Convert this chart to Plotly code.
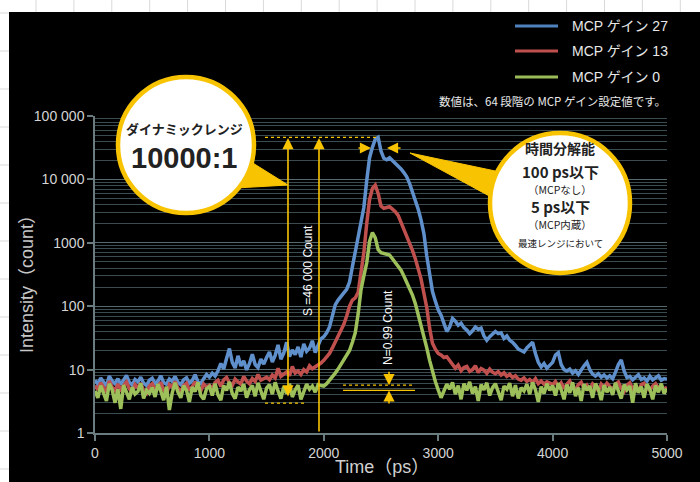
import math
import plotly.graph_objects as go

# Sampling grid of the streak-camera time axis (ps)
TIME_PS = list(range(0, 5001, 25))

# Intensity (count) for the three MCP gain settings
GAIN_27 = [
    6.8, 5.9, 7.4, 6.2, 5.5, 7.9, 6.6, 6.0, 7.2, 5.8, 6.9, 8.1, 6.3, 5.7, 7.0, 6.4, 7.6, 6.1, 5.6, 6.8,
    7.3, 6.0, 6.6, 8.0, 6.2, 5.9, 7.1, 6.5, 7.8, 6.3, 5.8, 6.9, 7.4, 6.1, 6.7, 8.3, 6.4, 6.0, 7.2, 8.4,
    7.6, 8.8, 7.9, 9.6, 12.5, 10.2, 15.0, 21.5, 13.0, 10.6, 16.5, 11.4, 13.8, 9.9, 12.4, 17.5, 12.0, 10.8, 14.6, 12.2,
    15.5, 19.0, 13.2, 16.8, 24.5, 14.6, 18.2, 27.0, 16.0, 20.5, 17.2, 22.8, 15.8, 25.5, 19.5, 21.8, 28.5, 18.6, 24.0, 30.5,
    33, 38, 47, 72, 105, 125, 140, 162, 185, 240, 420, 700, 1150, 2000, 3600, 9500, 22000, 32000, 43000, 46000,
    28000, 21500, 20500, 22000, 20000, 17800, 16500, 14600, 12800, 11000, 8600, 6400, 4700, 3400, 2300, 1400, 620, 330, 170, 120,
    88, 72, 52, 40, 47, 64, 58, 50, 54, 46, 42, 37, 41, 47, 43, 45, 34, 29, 33, 36,
    40, 37, 38, 31, 34, 29, 27, 24, 21, 20, 19, 22, 24, 27, 18, 13, 11, 12.5, 10.5, 11.5,
    13, 17, 18.5, 12, 10, 9.5, 10.2, 8.8, 9.6, 8.4, 10.1, 11.5, 13.0, 10.0, 8.5, 7.9, 8.6, 7.6, 8.2, 7.4,
    8.0, 7.2, 9.1, 12.0, 14.2, 9.5, 7.5, 7.8, 6.9, 7.6, 8.3, 7.0, 7.4, 6.6, 7.9, 6.9, 7.3, 8.0, 6.8, 7.2,
    7.0,
]
GAIN_13 = [
    5.6, 4.8, 6.2, 5.1, 4.4, 6.6, 5.3, 4.7, 5.9, 4.9, 5.7, 6.4, 5.0, 4.3, 5.8, 5.2, 6.1, 4.6, 4.2, 5.5,
    6.0, 4.9, 5.4, 6.3, 4.8, 4.1, 5.8, 5.3, 6.5, 5.1, 4.5, 5.6, 6.1, 4.7, 5.4, 6.4, 5.2, 4.6, 5.9, 5.3,
    5.7, 5.0, 6.3, 6.8, 5.4, 6.9, 7.5, 6.2, 5.6, 7.1, 6.4, 5.9, 7.8, 6.6, 6.0, 7.2, 6.5, 8.4, 6.8, 7.3,
    7.6, 6.9, 8.2, 7.4, 10.5, 7.8, 8.6, 9.2, 8.0, 11.2, 8.8, 9.5, 8.4, 10.0, 9.2, 11.5, 10.3, 11.0, 12.0, 12.7,
    14, 16, 18, 22, 27, 33, 40, 52, 70, 100, 125, 135, 165, 330, 700, 2000, 4800, 7200, 8100, 6000,
    3800, 3500, 3550, 3700, 3400, 3100, 2700, 2100, 1700, 1300, 1000, 760, 560, 400, 270, 160, 95, 45, 26, 21,
    18, 17, 15.5, 16, 14, 12.5, 10.5, 11.8, 9.6, 10.8, 11.2, 9.4, 10.0, 11.5, 9.0, 10.4, 9.8, 8.7, 10.2, 9.1,
    8.6, 9.3, 8.2, 8.9, 7.8, 8.4, 7.5, 8.0, 7.1, 6.8, 7.4, 6.5, 7.0, 6.3, 7.2, 6.0, 6.6, 5.9, 6.4, 6.1,
    5.8, 6.5, 5.4, 6.2, 5.0, 5.9, 6.6, 5.3, 4.7, 5.8, 6.3, 5.1, 5.7, 4.9, 6.0, 5.5, 4.6, 5.9, 5.2, 6.1,
    5.4, 4.8, 5.9, 6.4, 5.1, 4.5, 5.7, 6.2, 5.0, 5.6, 4.4, 5.8, 6.1, 5.2, 4.7, 5.5, 6.0, 5.1, 5.6, 4.9,
    5.3,
]
GAIN_0 = [
    4.6, 3.6, 5.6, 4.3, 3.2, 6.0, 4.8, 3.0, 4.9, 2.4, 5.7, 4.4, 3.4, 5.3, 4.1, 4.5, 6.1, 3.5, 4.7, 4.2,
    5.2, 3.7, 5.9, 4.6, 3.3, 5.4, 2.3, 4.3, 6.2, 4.4, 3.6, 5.6, 4.7, 3.1, 5.3, 4.5, 6.3, 3.9, 3.4, 5.0,
    5.4, 3.9, 6.0, 4.0, 3.3, 5.6, 4.7, 6.4, 4.2, 3.5, 5.3, 4.6, 5.9, 3.6, 4.8, 5.6, 3.8, 6.2, 4.5, 3.4,
    5.1, 5.8, 4.1, 6.3, 4.6, 3.5, 5.4, 4.2, 6.0, 3.7, 4.8, 5.7, 3.4, 4.7, 5.9, 4.9, 5.5, 4.4, 5.8, 5.6,
    5.5, 6.0, 6.8, 7.4, 8.8, 10.2, 12.0, 14.0, 16.5, 20, 27, 38, 75, 180, 300, 480, 1050, 1450, 1200, 780,
    700, 680, 650, 640, 560, 490, 430, 370, 300, 240, 200, 150, 110, 75, 50, 35, 22, 14, 9.0, 6.5,
    4.8, 3.6, 4.6, 5.9, 4.9, 6.3, 4.1, 5.6, 3.4, 6.0, 4.7, 6.4, 4.2, 5.4, 3.2, 5.8, 4.8, 6.2, 3.9, 5.2,
    6.0, 4.3, 3.3, 5.5, 4.9, 6.1, 3.8, 5.7, 3.5, 5.2, 4.6, 5.9, 4.1, 6.3, 4.8, 3.1, 5.4, 4.2, 6.0, 4.7,
    5.6, 3.9, 6.1, 4.8, 3.4, 5.8, 4.3, 6.3, 3.8, 5.2, 3.2, 5.9, 4.7, 5.5, 3.6, 6.0, 4.9, 3.3, 5.7, 4.4,
    5.3, 4.0, 6.2, 4.6, 3.5, 5.8, 4.8, 5.5, 3.0, 6.1, 4.3, 5.4, 3.6, 5.9, 4.9, 3.4, 5.6, 4.4, 6.0, 4.2,
    5.0,
]
assert len(GAIN_27) == len(GAIN_13) == len(GAIN_0) == len(TIME_PS)

SERIES_NAMES = ["MCP ゲイン 27", "MCP ゲイン 13", "MCP ゲイン 0"]
LINE_COLORS = ["#5f90cc", "#c0504e", "#9dc05a"]
LEGEND_COLORS = ["#4f81bd", "#c0504d", "#9bbb59"]

X_TICKS = [0, 1000, 2000, 3000, 4000, 5000]
Y_TICKS = [1, 10, 100, 1000, 10000, 100000]
Y_TICK_TEXT = ["1", "10", "100", "1000", "10 000", "100 000"]

# Signal / noise markers
S_LEVEL = 46000
S_FLOOR = 2.97
N_UPPER = 5.69
N_LOWER = 4.70
PEAK_TIME = 2465

W, H = 700, 482
L, R, T, B = 95, 667, 116, 433
YELLOW = "#f8c300"
LATIN = "Liberation Sans, Arial, Noto Sans CJK JP"
CJK = "Noto Sans CJK JP, Liberation Sans"


def xp(px):
    return (px - L) / (R - L)


def yp(py):
    return (B - py) / (B - T)


fig = go.Figure()
for name, ys, col in zip(SERIES_NAMES, [GAIN_27, GAIN_13, GAIN_0], LINE_COLORS):
    fig.add_trace(go.Scatter(x=TIME_PS, y=ys, mode="lines", name=name,
                             line=dict(color=col, width=3.5), showlegend=False))

# dotted guide lines for signal level and noise floor
guide = dict(mode="lines", showlegend=False, hoverinfo="skip")
fig.add_trace(go.Scatter(x=[1486, PEAK_TIME], y=[S_LEVEL, S_LEVEL],
                         line=dict(color=YELLOW, width=1.3, dash="dot"), **guide))
fig.add_trace(go.Scatter(x=[1486, 1827], y=[S_FLOOR, S_FLOOR],
                         line=dict(color=YELLOW, width=1.3, dash="dot"), **guide))
fig.add_trace(go.Scatter(x=[2168, 2797], y=[N_UPPER, N_UPPER],
                         line=dict(color=YELLOW, width=1.3, dash="dot"), **guide))
fig.add_trace(go.Scatter(x=[2168, 2797], y=[N_LOWER, N_LOWER],
                         line=dict(color=YELLOW, width=1.3), **guide))

shapes = []
# page surround (sheet grid outside the black panel)
shapes.append(dict(type="rect", xref="paper", yref="paper", x0=xp(-5), x1=xp(705),
                   y0=yp(12), y1=yp(-5), fillcolor="white", line_width=0))
shapes.append(dict(type="rect", xref="paper", yref="paper", x0=xp(-5), x1=xp(9),
                   y0=yp(487), y1=yp(12), fillcolor="white", line_width=0))
for k in range(18):
    gx = 36 + 37.9 * k
    shapes.append(dict(type="line", xref="paper", yref="paper", x0=xp(gx), x1=xp(gx),
                       y0=yp(0), y1=yp(12), line=dict(color="#d9d9d9", width=1)))
for k in range(13):
    gy = 13 + 38 * k
    shapes.append(dict(type="line", xref="paper", yref="paper", x0=xp(0), x1=xp(9),
                       y0=yp(gy), y1=yp(gy), line=dict(color="#d9d9d9", width=1)))

# legend swatches
for i, col in enumerate(LEGEND_COLORS):
    ly = [26, 51, 77][i]
    shapes.append(dict(type="line", xref="paper", yref="paper", x0=xp(515), x1=xp(558),
                       y0=yp(ly), y1=yp(ly), line=dict(color=col, width=3)))


def callout(cx, cy, r, tail):
    (ax, ay), (tx, ty), (bx, by) = tail
    path = "M {} {} L {} {} L {} {} Z".format(xp(ax), yp(ay), xp(tx), yp(ty), xp(bx), yp(by))
    shapes.append(dict(type="path", xref="paper", yref="paper", path=path,
                       fillcolor=YELLOW, line=dict(color=YELLOW, width=1)))
    shapes.append(dict(type="circle", xref="paper", yref="paper",
                       x0=xp(cx - r), x1=xp(cx + r), y0=yp(cy + r), y1=yp(cy - r),
                       fillcolor="white", line=dict(color=YELLOW, width=4.5)))


callout(186, 145, 68, [(248, 160), (288, 185), (236, 188)])
callout(560, 203, 70, [(500, 172), (410, 153), (493, 198)])

ann = []


def txt(x, y, s, size, color="#222222", family=CJK, anchor="center", **kw):
    ann.append(dict(x=xp(x), y=yp(y), xref="paper", yref="paper", text=s, showarrow=False,
                    xanchor=anchor, yanchor="middle", font=dict(size=size, color=color, family=family),
                    **kw))


# legend labels and note
for i, name in enumerate(SERIES_NAMES):
    txt(570, [26, 51, 77][i], name, 14, color="#e8e8e8", family=LATIN, anchor="left")
txt(668, 101, "数値は、64 段階の MCP ゲイン設定値です。", 11.5, color="#e8e8e8", anchor="right")

# callout texts
txt(184, 128, "<b>ダイナミックレンジ</b>", 13)
txt(184, 158, "<b>10000:1</b>", 29, family=LATIN)
txt(560, 148, "<b>時間分解能</b>", 14)
txt(560, 171, "<b>100 ps以下</b>", 15)
txt(560, 189, "（MCPなし）", 10.5)
txt(560, 206, "<b>5 ps以下</b>", 15)
txt(560, 224, "（MCP内蔵）", 10.5)
txt(560, 243, "最速レンジにおいて", 9.5)

# rotated value labels
txt(308, 271, "S =46 000 Count", 12, color="white", family=LATIN, textangle=-90)
txt(388, 327, "N=0.99 Count", 12, color="white", family=LATIN, textangle=-90)

# axis titles
txt(27, 280, "Intensity（count）", 18, color="#c8c8c8", family=LATIN, textangle=-90)
txt(382, 467, "Time（ps）", 18, color="#d0d0d0", family=LATIN)

lg = math.log10


def arrow(x, y, ax, ay, both=False):
    d = dict(x=x, y=lg(y), ax=ax, ay=lg(ay), xref="x", yref="y", axref="x", ayref="y",
             text="", showarrow=True, arrowhead=2, arrowsize=1.4, arrowwidth=1.6,
             arrowcolor=YELLOW, standoff=0, startstandoff=0)
    if both:
        d.update(arrowside="end+start", startarrowhead=2, startarrowsize=1.4)
    ann.append(d)


arrow(1687, 45000, 1687, 3.57, both=True)
arrow(1958, 45000, 1958, 1)
arrow(2570, N_UPPER, 2570, 9.8)
arrow(2570, N_LOWER, 2570, 2.76)
arrow(2413, 31300, 2290, 31300)
arrow(2552, 31300, 2684, 31300)

minor_vals = [k * 10 ** d for d in range(5) for k in range(2, 10)]

fig.update_layout(
    width=W, height=H,
    margin=dict(l=L, r=W - R, t=T, b=H - B),
    paper_bgcolor="black", plot_bgcolor="black",
    shapes=shapes, annotations=ann,
    showlegend=False, hovermode=False,
    font=dict(family=LATIN, color="#d4d4d4"),
    xaxis=dict(range=[0, 5000], tickmode="array", tickvals=X_TICKS, automargin=False,
               showgrid=False, zeroline=False, showline=True, linecolor="#6b7c80", linewidth=1.5,
               ticks="outside", ticklen=6, tickcolor="#6b7c80", tickwidth=1.5,
               tickfont=dict(size=14, color="#d4d4d4")),
    yaxis=dict(type="log", range=[0, 5], tickmode="array", tickvals=Y_TICKS, ticktext=Y_TICK_TEXT,
               automargin=False,
               showgrid=True, gridcolor="#56696d", gridwidth=1.3, zeroline=False,
               showline=True, linecolor="#6b7c80", linewidth=1.5,
               ticks="outside", ticklen=6, tickcolor="#6b7c80", tickwidth=1.5,
               tickfont=dict(size=14, color="#d4d4d4"),
               minor=dict(tickmode="array", tickvals=minor_vals, showgrid=True,
                          gridcolor="#3a4c50", gridwidth=1, ticks="")),
)

fig.write_html("out.html")
